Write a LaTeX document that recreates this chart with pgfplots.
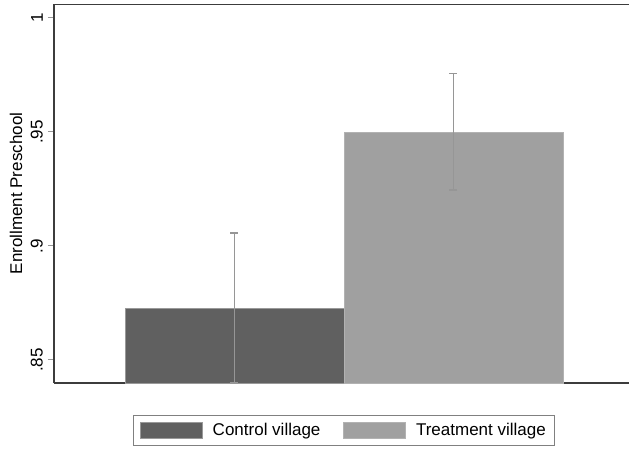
\documentclass[border=0pt]{standalone}
\usepackage{pgfplots}
\pgfplotsset{compat=1.18}
\usepackage{fontspec}
\setmainfont{Liberation Sans}
\definecolor{ctrl}{RGB}{96,96,96}
\definecolor{treat}{RGB}{160,160,160}
\definecolor{errc}{RGB}{150,150,150}
\definecolor{axc}{RGB}{60,60,60}
\begin{document}
\begin{tikzpicture}
\begin{axis}[
  name=ax,
  at={(0,0)}, anchor=south west,
  scale only axis,
  width=575pt, height=379pt,
  xmin=0.1758, xmax=2.8014,
  ymin=0.8399, ymax=1.0061,
  axis x line*=bottom, axis y line*=left,
  axis line style={axc, line width=1.2pt},
  xtick=\empty,
  ytick={0.85,0.9,0.95,1},
  yticklabels={.85,.9,.95,1},
  tick align=outside,
  major tick length=6pt,
  ytick style={errc, line width=1pt},
  yticklabel style={rotate=90, anchor=south, font=\fontsize{17}{20}\selectfont, inner sep=0pt, yshift=5pt},
  /pgf/number format/assume math mode=true,
  ylabel={Enrollment Preschool},
  every axis y label/.style={at={(axis description cs:-0.066,0.5)}, rotate=90, anchor=center, font=\fontsize{17}{20}\selectfont},
  ybar, bar width=1, bar shift=0pt,
  legend columns=2,
  legend style={at={(axis description cs:0.5043,-0.124)}, anchor=center,
    draw=gray, line width=0.8pt, font=\fontsize{17}{20}\selectfont,
    inner xsep=7pt, inner ysep=6pt,
    /tikz/every odd column/.append style={column sep=8pt},
    /tikz/every even column/.append style={column sep=21pt}},
  legend image code/.code={\fill[#1] (0pt,-8pt) rectangle (62pt,8pt);},
]
\addplot[fill=ctrl, draw=gray!80, line width=0.6pt,
  error bars/.cd, y dir=both, y explicit,
  error bar style={errc, line width=1.3pt},
  error mark options={rotate=90, mark size=4pt, errc, line width=1.3pt}]
  coordinates {(1,0.8728) +- (0,0.0329)};
\addlegendentry{Control village}
\addplot[fill=treat, draw=gray!60, line width=0.6pt,
  error bars/.cd, y dir=both, y explicit,
  error bar style={errc, line width=1.3pt},
  error mark options={rotate=90, mark size=4pt, errc, line width=1.3pt}]
  coordinates {(2,0.9500) +- (0,0.0255)};
\addlegendentry{Treatment village}
\draw[axc, line width=1.2pt] (rel axis cs:0,1) -- (rel axis cs:1,1);
\end{axis}
\pgfresetboundingbox
\path[use as bounding box] ([xshift=-54pt,yshift=-65pt]ax.south west) rectangle ([yshift=4pt]ax.north east);
\end{tikzpicture}
\end{document}
